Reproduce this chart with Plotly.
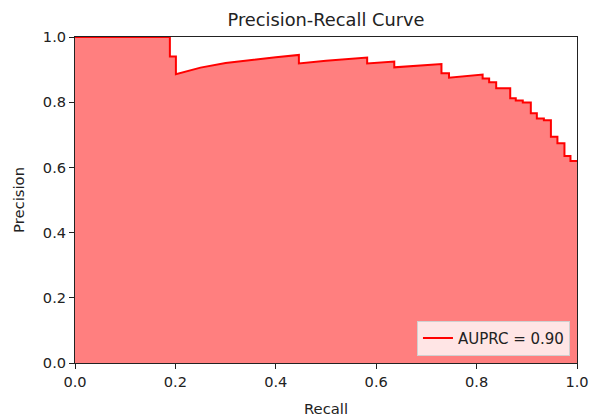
import plotly.graph_objects as go

# Staircase vertices of the precision-recall curve
recall = [0.0, 0.189, 0.189, 0.201, 0.201, 0.25, 0.30, 0.35, 0.40, 0.446,
          0.446, 0.50, 0.55, 0.582, 0.582, 0.636, 0.636, 0.68, 0.730,
          0.730, 0.745, 0.745, 0.78, 0.812, 0.812, 0.825, 0.825, 0.839,
          0.839, 0.867, 0.867, 0.878, 0.878, 0.892, 0.892, 0.908, 0.908,
          0.920, 0.920, 0.934, 0.934, 0.948, 0.948, 0.961, 0.961, 0.975,
          0.975, 0.987, 0.987, 1.0]
precision = [1.0, 1.0, 0.940, 0.940, 0.886, 0.906, 0.920, 0.930, 0.938, 0.945,
             0.919, 0.927, 0.933, 0.937, 0.919, 0.925, 0.907, 0.912, 0.917,
             0.889, 0.889, 0.875, 0.880, 0.885, 0.873, 0.873, 0.861, 0.861,
             0.843, 0.843, 0.812, 0.812, 0.805, 0.805, 0.799, 0.799, 0.766,
             0.766, 0.750, 0.750, 0.745, 0.745, 0.694, 0.694, 0.674, 0.674,
             0.635, 0.635, 0.620, 0.620]
auprc = 0.90
ticks = [0.0, 0.2, 0.4, 0.6, 0.8, 1.0]
tick_labels = ["0.0", "0.2", "0.4", "0.6", "0.8", "1.0"]

FONT = "DejaVu Sans"

fig = go.Figure()
# filled area (no legend entry)
fig.add_trace(go.Scatter(
    x=recall, y=precision, mode="none",
    fill="tozeroy", fillcolor="rgba(255,0,0,0.5)",
    showlegend=False, hoverinfo="skip",
))
# curve line
fig.add_trace(go.Scatter(
    x=recall, y=precision, mode="lines",
    line=dict(color="red", width=2),
    name=f"AUPRC = {auprc:.2f}",
))

axis_common = dict(
    range=[0, 1], showgrid=False, zeroline=False, automargin=False,
    showline=True, linecolor="#222", linewidth=1, mirror=True,
    ticks="outside", ticklen=5, tickcolor="#222", tickwidth=1,
    tickvals=ticks, ticktext=tick_labels,
    tickfont=dict(family=FONT, size=14.6, color="#222"),
)

fig.update_layout(
    width=595, height=419,
    margin=dict(l=75, r=18, t=37, b=56),
    paper_bgcolor="white", plot_bgcolor="white",
    font=dict(family=FONT, color="#222"),
    title=dict(text="Precision-Recall Curve", x=(75 + 577) / 2 / 595, xanchor="center",
               y=1 - 20 / 419, yanchor="middle",
               font=dict(family=FONT, size=17.8, color="#222")),
    xaxis=dict(**axis_common,
               title=dict(text="Recall", standoff=15,
                          font=dict(family=FONT, size=14.8, color="#222"))),
    yaxis=dict(**axis_common,
               title=dict(text="Precision", standoff=14,
                          font=dict(family=FONT, size=14.8, color="#222"))),
    showlegend=True,
    legend=dict(x=0.986, xanchor="right", y=0.022, yanchor="bottom",
                itemwidth=30,
                bgcolor="rgba(255,255,255,0.8)", bordercolor="#d0d0d0", borderwidth=1,
                font=dict(family=FONT, size=15, color="#222")),
)

fig.write_html("out.html",
               config={"displayModeBar": False},
               post_script="document.body.style.margin='0';document.body.style.overflow='hidden';")
